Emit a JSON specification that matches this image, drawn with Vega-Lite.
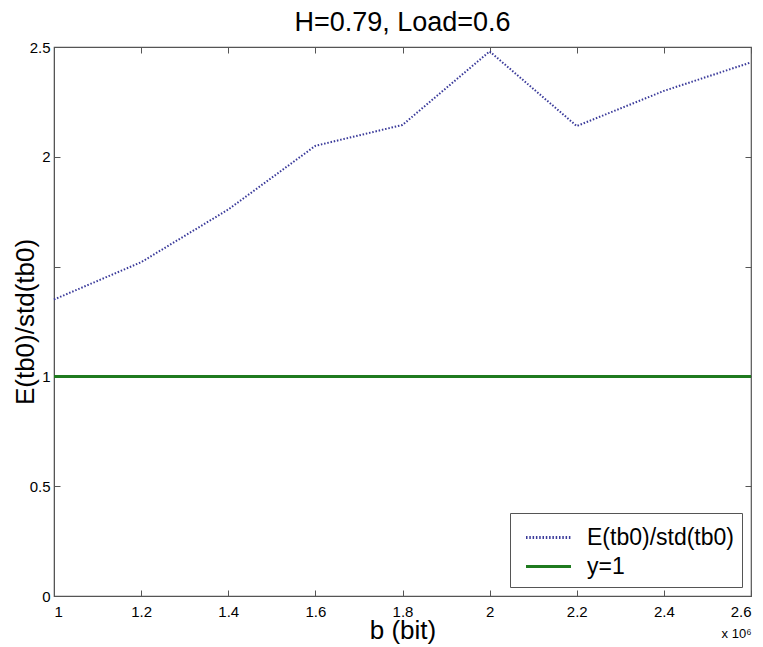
{
  "$schema": "https://vega.github.io/schema/vega-lite/v6.json",
  "autosize": "none",
  "width": 697,
  "height": 549,
  "padding": {"left": 54, "top": 47, "right": 12, "bottom": 51},
  "background": "white",
  "config": {
    "font": "Liberation Sans",
    "view": {"stroke": "#555555", "strokeWidth": 1.2},
    "axis": {"grid": false, "domainColor": "#555555", "tickColor": "#555555", "labelColor": "#000000", "labelFont": "Liberation Sans", "labelFontSize": 15, "titleFont": "Liberation Sans", "titleFontWeight": "normal", "titleColor": "#000000", "titleFontSize": 26}
  },
  "title": {"text": "H=0.79, Load=0.6", "fontSize": 27, "fontWeight": "normal", "font": "Liberation Sans", "offset": 3},
  "data": {"values": [
    {"b": 1.0, "r": 1.35},
    {"b": 1.2, "r": 1.52},
    {"b": 1.4, "r": 1.76},
    {"b": 1.6, "r": 2.05},
    {"b": 1.8, "r": 2.145},
    {"b": 2.0, "r": 2.48},
    {"b": 2.2, "r": 2.14},
    {"b": 2.4, "r": 2.3},
    {"b": 2.6, "r": 2.43}
  ]},
  "layer": [
    {
      "mark": {"type": "line", "strokeWidth": 2, "strokeDash": [1.5, 1.8]},
      "encoding": {
        "x": {"field": "b", "type": "quantitative", "scale": {"domain": [1, 2.6], "nice": false, "zero": false},
          "axis": {"orient": "bottom", "title": "b (bit)", "format": "~g", "values": [1, 1.2, 1.4, 1.6, 1.8, 2, 2.2, 2.4, 2.6], "tickSize": -6, "labelPadding": 14, "titlePadding": -2, "domain": true}},
        "y": {"field": "r", "type": "quantitative", "scale": {"domain": [0, 2.5], "nice": false},
          "axis": {"orient": "left", "title": "E(tb0)/std(tb0)", "format": "~g", "labelExpr": "datum.value == 1.5 ? '' : datum.label", "values": [0, 0.5, 1, 1.5, 2, 2.5], "tickSize": -6, "labelPadding": 10, "titlePadding": -9}},
        "color": {"datum": "E(tb0)/std(tb0)", "type": "nominal", "scale": {"domain": ["E(tb0)/std(tb0)", "y=1"], "range": ["#3a3a9a", "#1f7a1f"]},
          "legend": {"orient": "bottom-right", "title": null, "offset": 9, "fillColor": "white", "strokeColor": "#555555", "padding": 8, "labelFontSize": 23, "labelFont": "Liberation Sans", "symbolType": "M-1.5,0H1.5", "symbolSize": 900, "symbolStrokeWidth": 3, "symbolOffset": 14, "rowPadding": 0, "labelOffset": 22, "labelLimit": 300}},
        "strokeDash": {"datum": "E(tb0)/std(tb0)", "type": "nominal", "scale": {"domain": ["E(tb0)/std(tb0)", "y=1"], "range": [[1.5, 1.8], [1, 0]]}, "legend": {"orient": "bottom-right", "title": null}}
      }
    },
    {
      "mark": {"type": "rule", "strokeWidth": 3},
      "encoding": {
        "y": {"datum": 1, "type": "quantitative", "scale": {"domain": [0, 2.5], "nice": false}, "axis": null},
        "color": {"datum": "y=1", "type": "nominal"},
        "strokeDash": {"datum": "y=1", "type": "nominal"}
      }
    },
    {
      "mark": {"type": "point", "opacity": 0},
      "encoding": {
        "x": {"field": "b", "type": "quantitative", "scale": {"domain": [1, 2.6], "nice": false, "zero": false},
          "axis": {"orient": "top", "title": null, "labels": false, "domain": false, "values": [1, 1.2, 1.4, 1.6, 1.8, 2, 2.2, 2.4, 2.6], "tickSize": -6}},
        "y": {"field": "r", "type": "quantitative", "scale": {"domain": [0, 2.5], "nice": false},
          "axis": {"orient": "right", "title": null, "labels": false, "domain": false, "values": [0, 0.5, 1, 1.5, 2, 2.5], "tickSize": -6}}
      }
    },
    {
      "mark": {"type": "point", "opacity": 0},
      "encoding": {
        "x": {"field": "b", "type": "quantitative", "scale": {"domain": [1, 2.6], "nice": false, "zero": false},
          "axis": {"orient": "bottom", "title": "x 10⁶", "titleFontSize": 13, "titleAnchor": "end", "titleAlign": "right", "labels": false, "ticks": false, "domain": false, "titlePadding": 31}}
      }
    }
  ],
  "resolve": {"scale": {"x": "independent", "y": "independent"}, "axis": {"x": "independent", "y": "independent"}}
}
